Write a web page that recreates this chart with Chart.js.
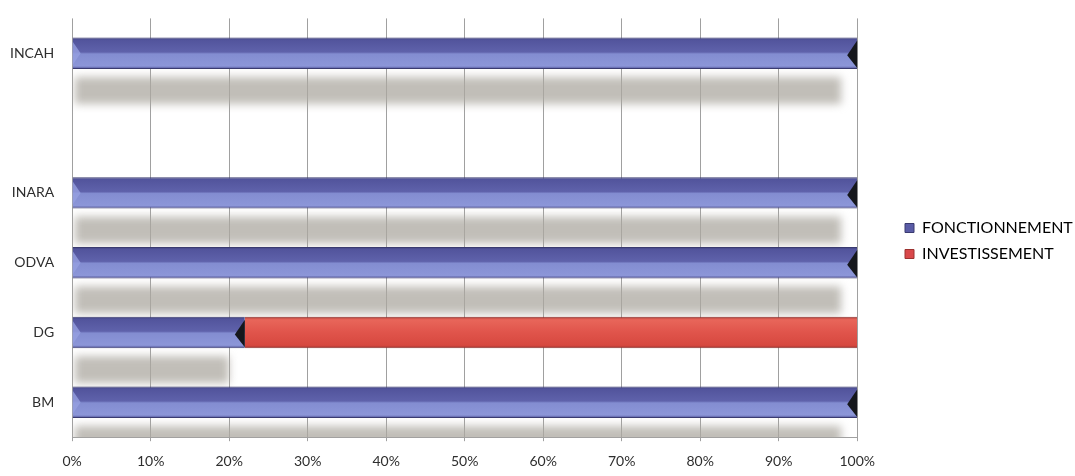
<!DOCTYPE html>
<html>
<head>
<meta charset="utf-8">
<script src="https://cdn.jsdelivr.net/npm/chart.js@4/dist/chart.umd.min.js"></script>
<style>
  html, body { margin: 0; padding: 0; background: #fff; overflow: hidden; }
</style>
</head>
<body>
<canvas id="budgetChart" width="1075" height="476"></canvas>
<script>
const categories = ['INCAH', '', 'INARA', 'ODVA', 'DG', 'BM'];
const fonctionnement = [100, null, 100, 100, 22, 100];
const investissement = [0, null, 0, 0, 78, 0];
const xTicks = [0, 10, 20, 30, 40, 50, 60, 70, 80, 90, 100];

const BAR_H = 32;
const LEGEND_X = 905;

// vertical gradient per bar, built from the category scale
function barFill(stops) {
  return c => {
    const chart = c.chart;
    const y = chart.scales.y;
    if (!y || c.dataIndex == null) return stops[1][1];
    const mid = y.getPixelForValue(c.dataIndex);
    const g = chart.ctx.createLinearGradient(0, mid - BAR_H / 2, 0, mid + BAR_H / 2);
    stops.forEach(s => g.addColorStop(s[0], s[1]));
    return g;
  };
}

const blueStops = [[0, '#3a3b74'], [0.08, '#52549c'], [0.46, '#5f62ab'], [0.52, '#838dd1'], [0.9, '#8c96d8'], [1, '#44458a']];
const redStops = [[0, '#a83a36'], [0.1, '#e8665a'], [0.5, '#e0544b'], [0.9, '#d7483f'], [1, '#9c3330']];

// soft grey shadow under the "fonctionnement" bars, like the 3D original
const shadowPlugin = {
  id: 'barShadow',
  afterLayout(chart) {
    // push the legend items to the right, leaving a gap after the plot
    const L = chart.legend;
    const dx = LEGEND_X - (L.left + L.options.labels.padding);
    L.left += dx;
    L.right += dx;
  },
  beforeDatasetsDraw(chart) {
    const { ctx, chartArea } = chart;
    const meta = chart.getDatasetMeta(0);
    ctx.save();
    ctx.beginPath();
    ctx.rect(chartArea.left, chartArea.top, chartArea.width, chartArea.bottom - chartArea.top);
    ctx.clip();
    ctx.filter = 'blur(4px)';
    ctx.fillStyle = 'rgba(172,168,160,0.75)';
    meta.data.forEach((bar, i) => {
      if (fonctionnement[i] == null) return;
      const top = bar.y + bar.height / 2 + 8;
      ctx.fillRect(bar.base + 2, top, bar.x - bar.base - 18, 27);
    });
    ctx.restore();
  },
  afterDatasetsDraw(chart) {
    const { ctx } = chart;
    const meta = chart.getDatasetMeta(0);
    ctx.save();
    meta.data.forEach((bar, i) => {
      if (!fonctionnement[i]) return;
      const t = bar.y - bar.height / 2 + 1, b = bar.y + bar.height / 2 - 1;
      // dark tip at the end of the arrow
      ctx.fillStyle = '#15171c';
      ctx.beginPath();
      ctx.moveTo(bar.x, t + 2);
      ctx.lineTo(bar.x, b);
      ctx.lineTo(bar.x - 10, bar.y + 2);
      ctx.closePath();
      ctx.fill();
      // light notch at the start
      ctx.fillStyle = 'rgba(150,160,225,0.8)';
      ctx.beginPath();
      ctx.moveTo(bar.base, t + 3);
      ctx.lineTo(bar.base + 8, bar.y);
      ctx.lineTo(bar.base, b - 3);
      ctx.closePath();
      ctx.fill();
    });
    ctx.restore();
  }
};

new Chart(document.getElementById('budgetChart'), {
  type: 'bar',
  data: {
    labels: categories,
    datasets: [
      { label: 'FONCTIONNEMENT', data: fonctionnement, backgroundColor: barFill(blueStops), borderColor: '#3a3b70', borderWidth: { top: 1, bottom: 1 } },
      { label: 'INVESTISSEMENT', data: investissement, backgroundColor: barFill(redStops), borderColor: '#8c2e2a', borderWidth: { top: 1, bottom: 1 } }
    ]
  },
  plugins: [shadowPlugin],
  options: {
    indexAxis: 'y',
    responsive: false,
    animation: false,
    devicePixelRatio: 1,
    layout: { padding: { top: 0, right: 30, bottom: -6, left: 0 } },
    datasets: { bar: { categoryPercentage: 1, barPercentage: 0.45 } },
    scales: {
      x: {
        stacked: true,
        min: 0, max: 100,
        afterBuildTicks: s => { s.ticks = xTicks.map(v => ({ value: v })); },
        grid: { color: '#a0a0a0', lineWidth: 1, tickLength: 4, drawOnChartArea: true },
        border: { color: '#a0a0a0' },
        ticks: { color: '#2e2e2e', padding: 12, maxRotation: 0, autoSkip: false, font: { family: 'Lato', size: 14 }, callback: v => v + '%' }
      },
      y: {
        stacked: true,
        grid: { display: false },
        border: { display: false },
        ticks: { color: '#2e2e2e', padding: 10, autoSkip: false, font: { family: 'Lato', size: 14 } }
      }
    },
    plugins: {
      legend: {
        position: 'right',
        labels: { boxWidth: 9, boxHeight: 9, padding: 10, color: '#2e2e2e', font: { family: 'Lato', size: 16 },
          generateLabels: chart => chart.data.datasets.map((d, i) => ({
            text: d.label, fillStyle: i === 0 ? '#5a5ca6' : '#d9484a', strokeStyle: i === 0 ? '#3a3b70' : '#9c3330',
            lineWidth: 1, datasetIndex: i, hidden: false
          }))
        }
      },
      tooltip: { enabled: false }
    }
  }
});
</script>
</body>
</html>
